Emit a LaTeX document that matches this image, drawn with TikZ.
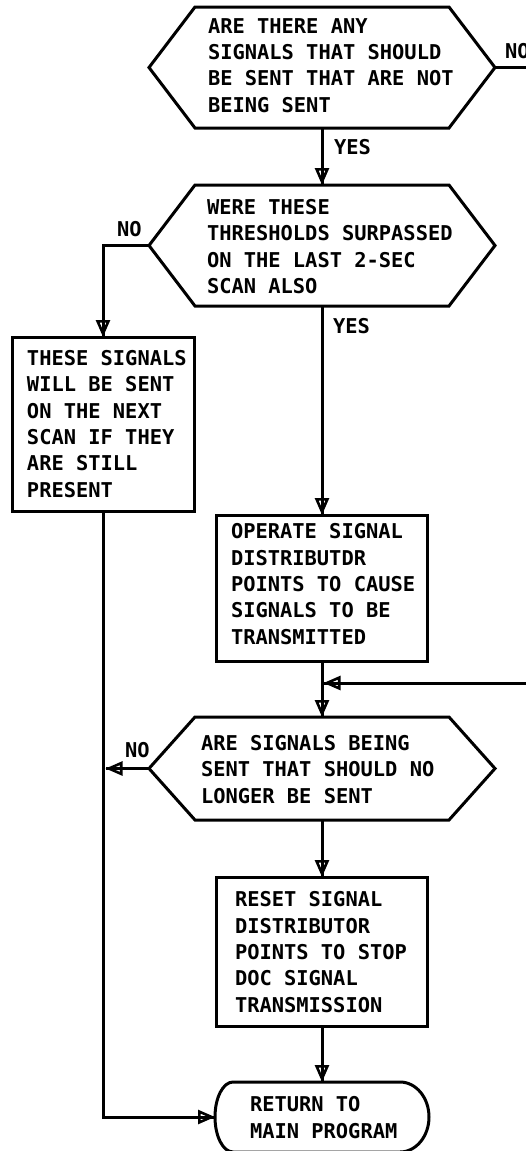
\documentclass[tikz,border=0pt]{standalone}
\usepackage{fontspec}
\setmainfont{DejaVu Sans Mono}
\usetikzlibrary{arrows.meta,calc}
\tikzset{
  ln/.style={line width=3pt},
  arr/.style={ln,-{Triangle[open,length=17pt,width=14pt,line width=2.6pt]},postaction={draw,ln,arrows=-}},
  txt/.style={font=\bfseries\fontsize{20.4}{26.3}\selectfont,inner sep=0pt,outer sep=0pt,align=left,anchor=base west},
  boxnode/.style={draw,ln,shape=rectangle,inner sep=0pt,outer sep=0pt},
  hexnode/.style={shape=rectangle,inner sep=0pt,outer sep=0pt,minimum width=346pt}
}
\newcommand\hexpath[2]{\draw[ln] (#1.west) -- ($(#1.north west)+(#2,0)$) -- ($(#1.north east)+(-#2,0)$) -- (#1.east) -- ($(#1.south east)+(-#2,0)$) -- ($(#1.south west)+(#2,0)$) -- cycle;}
\begin{document}
\begin{tikzpicture}[x=1pt,y=-1pt]
\useasboundingbox (0,0) rectangle (525,1151);
% decisions
\node[hexnode,minimum height=121pt] (d1) at (322,67.5) {};
\hexpath{d1}{46}
\node[hexnode,minimum height=121pt] (d2) at (322,245.5) {};
\hexpath{d2}{46}
\node[hexnode,minimum height=103pt] (d3) at (322,768.5) {};
\hexpath{d3}{46}
% boxes
\node[boxnode,minimum width=211pt,minimum height=146pt] (b2) at (322,588) {};
\node[boxnode,minimum width=182pt,minimum height=174pt] (b1) at (103,424) {};
\node[boxnode,minimum width=211pt,minimum height=149pt] (b3) at (322,951.5) {};
% terminal
\node[shape=rectangle,inner sep=0pt,outer sep=0pt,minimum width=214pt,minimum height=70pt] (ret) at (322,1117) {};
\draw[ln] ($(ret.north west)+(18,0)$) -- ($(ret.north east)+(-29,0)$)
  arc[start angle=90,end angle=-90,x radius=29pt,y radius=35pt]
  -- ($(ret.south west)+(18,0)$)
  arc[start angle=270,end angle=90,x radius=18pt,y radius=35pt] -- cycle;
% texts (anchored at the baseline of the last line)
\node[txt] (t1) at (208,112) {ARE THERE ANY\\SIGNALS THAT SHOULD\\BE SENT THAT ARE NOT\\BEING SENT};
\node[txt] (t2) at (207,293.5) {WERE THESE\\THRESHOLDS SURPASSED\\ON THE LAST 2-SEC\\SCAN ALSO};
\node[txt] (t3) at (27,497) {THESE SIGNALS\\WILL BE SENT\\ON THE NEXT\\SCAN IF THEY\\ARE STILL\\PRESENT};
\node[txt] (t4) at (231,644) {OPERATE SIGNAL\\DISTRIBUTDR\\POINTS TO CAUSE\\SIGNALS TO BE\\TRANSMITTED};
\node[txt] (t5) at (201,803) {ARE SIGNALS BEING\\SENT THAT SHOULD NO\\LONGER BE SENT};
\node[txt] (t6) at (235,1012) {RESET SIGNAL\\DISTRIBUTOR\\POINTS TO STOP\\DOC SIGNAL\\TRANSMISSION};
\node[txt] (t7) at (250,1138) {RETURN TO\\MAIN PROGRAM};
% labels
\node[txt] (l1) at (505,58) {NO};
\node[txt] (l2) at (334,154) {YES};
\node[txt] (l3) at (117,236) {NO};
\node[txt] (l4) at (333,333) {YES};
\node[txt] (l5) at (125,757) {NO};
% connectors
\coordinate (r1) at (530,67.5);
\coordinate (r2) at (530,683);
\coordinate (j1) at (323.5,683);
\coordinate (j2) at (105.5,768.5);
\draw[ln] (d1.east) -- (r1);
\draw[arr] (d1.south) -- (d2.north);
\draw[arr] (d2.west) -| (b1.north);
\draw[arr] (d2.south) -- (b2.north);
\draw[arr] (b2.south) -- (d3.north);
\draw[arr] (r2) -- (j1);
\draw[arr] (d3.west) -- (j2);
\draw[arr] (d3.south) -- (b3.north);
\draw[arr] (b3.south) -- (ret.north);
\draw[arr] (b1.south) |- (ret.west);
\end{tikzpicture}
\end{document}
